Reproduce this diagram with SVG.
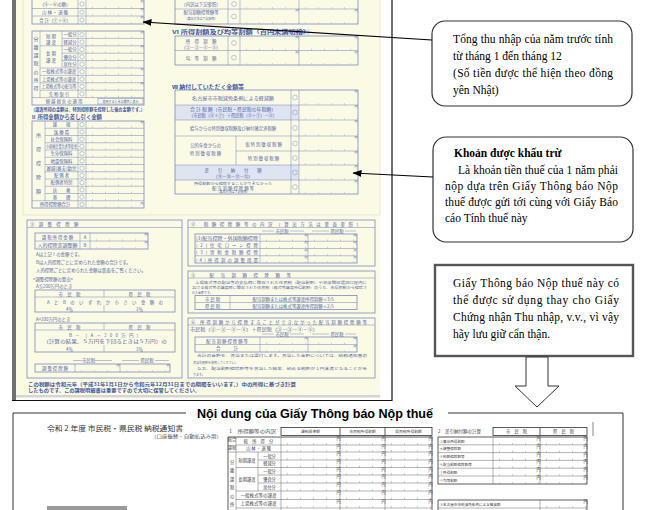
<svg xmlns="http://www.w3.org/2000/svg" width="650" height="510" viewBox="0 0 650 510">
<defs>
<marker id="ah" markerWidth="9" markerHeight="7" refX="8.5" refY="3.5" orient="auto" markerUnits="userSpaceOnUse"><path d="M0,0 L9,3.5 L0,7 z" fill="#000"/></marker>
</defs>
<style>
.tb{fill:none;stroke:#7083bd;stroke-width:.75}
.tl{fill:none;stroke:#7083bd;stroke-width:.5}
.tk{fill:none;stroke:#a6b2d6;stroke-width:1.6;stroke-dasharray:.6 12.4;stroke-dashoffset:7}
.j{font-family:"Noto Sans CJK JP",sans-serif;font-size:4.4px;fill:#5266aa}
.m{text-anchor:middle}
.y{font-size:3px}
.s5{font-size:5px}
.hd{font-size:5.2px;font-weight:bold;fill:#3f55a0}
.ci{fill:none;stroke:#8090c4;stroke-width:.5}
.sh{fill:#dfe4f1}
.v{font-family:"Liberation Serif",serif;font-size:11.5px;fill:#000}
.bk{fill:none;stroke:#333;stroke-width:.8}
.bl{fill:none;stroke:#555;stroke-width:.45}
.btk{fill:none;stroke:#999;stroke-width:1.6;stroke-dasharray:.6 12.4;stroke-dashoffset:7}
.bj{font-family:"Noto Sans CJK JP",sans-serif;font-size:4.2px;fill:#444}
</style>

<g id="form-top">
<rect x="16" y="0" width="364" height="395" fill="#fbfbe5"/>
<rect x="16" y="395" width="364" height="2.5" fill="#d6d6cc"/>
<rect x="12" y="0" width="4" height="400" fill="#707070"/>
<path d="M392 0V400.5M12 400.5H392.5" stroke="#111" stroke-width="1.2" fill="none"/>
<rect x="23" y="-1" width="357" height="216" fill="none" stroke="#e4e4c8" stroke-width=".8"/>

<!-- table L1 -->
<rect class="tb" x="32" y="-1" width="112" height="25"/>
<path class="tl" d="M32 8.5H144M32 16H144M78 -1V24M86 -1V24"/>
<path class="tk" d="M86 7.5H144M86 15H144M86 23H144"/>
<circle class="ci" cx="82" cy="4" r="2.2"/><circle class="ci" cx="82" cy="12.2" r="2.2"/><circle class="ci" cx="82" cy="20" r="2.2"/>
<text class="j m" x="55" y="6">（⑤－⑥の額）</text>
<text class="j m" x="55" y="14">山 林 ・ 退 職</text>
<text class="j m" x="55" y="22">合 計（⑦＋⑧）</text>
<text class="j y" x="140.5" y="2.5">円</text><text class="j y" x="140.5" y="11">円</text><text class="j y" x="140.5" y="18.5">円</text>

<!-- table L2 -->
<rect class="tb" x="32" y="31" width="112" height="74"/>
<path class="tl" d="M62 38.4H144M40 45.8H144M62 53.2H144M62 60.6H144M40 68H144M40 75.4H144M40 82.8H144M40 90.2H144M32 97.6H144M40 31V97.6M62 31V68M78 31V97.6M86 31V97.6"/>
<rect class="tl" x="98" y="98.6" width="45" height="5.4"/>
<path class="tk" d="M86 37.4H144M86 44.8H144M86 52.2H144M86 59.6H144M86 67H144M86 74.4H144M86 81.8H144M86 89.2H144M86 96.6H144"/>
<circle class="ci" cx="82" cy="34.7" r="2.2"/><circle class="ci" cx="82" cy="42.1" r="2.2"/><circle class="ci" cx="82" cy="49.5" r="2.2"/><circle class="ci" cx="82" cy="56.9" r="2.2"/><circle class="ci" cx="82" cy="64.3" r="2.2"/><circle class="ci" cx="82" cy="71.7" r="2.2"/><circle class="ci" cx="82" cy="79.1" r="2.2"/><circle class="ci" cx="82" cy="86.5" r="2.2"/><circle class="ci" cx="82" cy="93.9" r="2.2"/>
<text class="j m s5" x="36" y="41">分</text><text class="j m s5" x="36" y="49">離</text><text class="j m s5" x="36" y="57">課</text><text class="j m s5" x="36" y="65">税</text><text class="j m s5" x="36" y="74">の</text><text class="j m s5" x="36" y="82">所</text><text class="j m s5" x="36" y="90">得</text>
<text class="j m" x="51" y="37.5">短 期</text><text class="j m" x="51" y="43.5">譲 渡</text>
<text class="j m" x="51" y="55">長 期</text><text class="j m" x="51" y="62">譲 渡</text>
<text class="j m" x="70" y="36.3">一般分</text><text class="j m" x="70" y="43.7">軽減分</text><text class="j m" x="70" y="51.1">一般分</text><text class="j m" x="70" y="58.5">優良分</text><text class="j m" x="70" y="65.9">居住分</text>
<text class="j m" x="59" y="73.3" textLength="34" lengthAdjust="spacingAndGlyphs">一般株式等の譲渡</text>
<text class="j m" x="59" y="80.7" textLength="34" lengthAdjust="spacingAndGlyphs">上場株式等の譲渡</text>
<text class="j m" x="59" y="88.1" textLength="35" lengthAdjust="spacingAndGlyphs">上場株式等の配当等</text>
<text class="j m" x="59" y="95.5">先 物 取 引</text>
<text class="j m" x="64" y="103">繰 越 損 失 の 適 用</text>
<text class="j m y" x="120.5" y="102.6">適用するときは欄外に表示</text>
<text class="j y" x="140.5" y="33.5">円</text><text class="j y" x="140.5" y="48.3">円</text><text class="j y" x="140.5" y="70.5">円</text><text class="j y" x="140.5" y="85.3">円</text>

<text class="j hd" x="31" y="110.5" textLength="114" lengthAdjust="spacingAndGlyphs" style="font-size:4.4px">（譲渡所得の金額は、特別控除額を控除した後の金額です。）</text>
<text class="j hd" x="31" y="118.5" textLength="71" lengthAdjust="spacingAndGlyphs">Ⅱ 所得金額から差し引く金額</text>

<!-- table L3 -->
<rect class="tb" x="32" y="121" width="112" height="87"/>
<path class="tl" d="M45 128.25H144M45 135.5H144M45 142.75H144M45 150H144M45 157.25H144M45 164.5H144M45 171.75H144M45 179H144M45 186.25H144M45 193.5H144M32 200.75H144M45 121V200.75M78 121V208M86 121V208"/>
<path class="tk" d="M86 127.25H144M86 134.5H144M86 141.75H144M86 149H144M86 156.25H144M86 163.5H144M86 170.75H144M86 178H144M86 185.25H144M86 192.5H144M86 199.75H144M86 207H144"/>
<circle class="ci" cx="82" cy="124.6" r="2.2"/><circle class="ci" cx="82" cy="131.9" r="2.2"/><circle class="ci" cx="82" cy="139.1" r="2.2"/><circle class="ci" cx="82" cy="146.4" r="2.2"/><circle class="ci" cx="82" cy="153.6" r="2.2"/><circle class="ci" cx="82" cy="160.9" r="2.2"/><circle class="ci" cx="82" cy="168.1" r="2.2"/><circle class="ci" cx="82" cy="175.4" r="2.2"/><circle class="ci" cx="82" cy="182.6" r="2.2"/><circle class="ci" cx="82" cy="189.9" r="2.2"/><circle class="ci" cx="82" cy="197.1" r="2.2"/><circle class="ci" cx="82" cy="204.4" r="2.2"/>
<text class="j m s5" x="38.5" y="137">所</text><text class="j m s5" x="38.5" y="151">得</text><text class="j m s5" x="38.5" y="165">控</text><text class="j m s5" x="38.5" y="179">除</text><text class="j m s5" x="38.5" y="193">額</text>
<text class="j m" x="61.5" y="126.2">雑　　損</text>
<text class="j m" x="61.5" y="133.5">医 療 費</text>
<text class="j m" x="61.5" y="140.7">社会保険料</text>
<text class="j m" x="61.5" y="148" textLength="31" lengthAdjust="spacingAndGlyphs">小規模企業共済等掛金</text>
<text class="j m" x="61.5" y="155.2">生命保険料</text>
<text class="j m" x="61.5" y="162.5">地震保険料</text>
<text class="j m" x="61.5" y="169.7" textLength="30" lengthAdjust="spacingAndGlyphs">寡婦(寡夫)勤労</text>
<text class="j m" x="61.5" y="177">配 偶 者</text>
<text class="j m" x="61.5" y="184.2">配偶者特別</text>
<text class="j m" x="61.5" y="191.5">扶　　養</text>
<text class="j m" x="61.5" y="198.7">基　　礎</text>
<text class="j m" x="55" y="206">所得控除額合計</text>
<text class="j y" x="140.5" y="124">円</text><text class="j y" x="140.5" y="205.3">円</text>

<!-- table R1 -->
<rect class="tb" x="175" y="-1" width="183" height="25"/>
<path class="tl" d="M175 9H358M228 -1V24M240 -1V24M299 -1V24"/>
<path class="tk" d="M240 8H299M299 8H358M240 23H299M299 23H358"/>
<circle class="ci" cx="234" cy="4" r="2.4"/><circle class="ci" cx="234" cy="16.5" r="2.4"/>
<text class="j m" x="201" y="6">（内訳は下記参照）</text>
<text class="j m" x="201" y="14.3">配当割額控除額等</text>
<text class="j m y" x="201" y="20">（算出方法は下記参照）</text>
<text class="j y" x="295.5" y="12">円</text><text class="j y" x="354.5" y="12">円</text>

<rect class="sh" x="270" y="29" width="40" height="6"/>
<text class="j hd" x="172" y="34" textLength="138" lengthAdjust="spacingAndGlyphs">Ⅵ 所得割額及び均等割額（百円未満切捨）</text>

<!-- table R2 -->
<rect class="tb" x="175" y="36" width="183" height="29"/>
<path class="tl" d="M175 50.5H358M228 36V65M240 36V65M299 36V65"/>
<path class="tk" d="M240 49.5H358M240 64H358"/>
<circle class="ci" cx="234" cy="43" r="2.4"/><circle class="ci" cx="234" cy="57.7" r="2.4"/>
<text class="j m" x="201" y="42.5">所　得　割　額</text>
<text class="j m" x="201" y="48.5">（③－③－④－⑤）</text>
<text class="j m" x="201" y="59.5">均　等　割　額</text>
<text class="j y" x="295.5" y="39">円</text><text class="j y" x="354.5" y="39">円</text><text class="j y" x="295.5" y="53.5">円</text><text class="j y" x="354.5" y="53.5">円</text>

<text class="j hd" x="172" y="89" textLength="72" lengthAdjust="spacingAndGlyphs">Ⅶ 納付していただく金額等</text>

<!-- table R3 -->
<rect class="sh" x="175" y="105" width="124" height="15"/>
<rect class="sh" x="175" y="165" width="124" height="15"/>
<rect class="tb" x="175" y="90" width="183" height="104"/>
<path class="tl" d="M175 105H358M175 120H358M175 136H358M236 151H358M175 165H358M175 180H358M291 90V194M299 90V194M236 136V165"/>
<path class="tk" d="M299 104H358M299 119H358M299 135H358M299 150H358M299 164H358M299 179H358M299 193H358"/>
<circle class="ci" cx="295" cy="97.5" r="2.4"/><circle class="ci" cx="295" cy="112.5" r="2.4"/><circle class="ci" cx="295" cy="128" r="2.4"/><circle class="ci" cx="295" cy="143.5" r="2.4"/><circle class="ci" cx="295" cy="158" r="2.4"/><circle class="ci" cx="295" cy="172.5" r="2.4"/><circle class="ci" cx="295" cy="187" r="2.4"/>
<text class="j m" x="233" y="99.5" textLength="82" lengthAdjust="spacingAndGlyphs">名古屋市市税減免条例による軽減額</text>
<text class="j m" x="233" y="111.3" textLength="86" lengthAdjust="spacingAndGlyphs">合 計 税 額（市民税・県民税の年税額）</text>
<text class="j m" x="233" y="117.3" textLength="88" lengthAdjust="spacingAndGlyphs">（市民税（⑧＋⑦）＋県民税（⑧＋⑦）－⑧）</text>
<text class="j m" x="233" y="130" textLength="86" lengthAdjust="spacingAndGlyphs">給与からの特別徴収税額及び納付確定済税額</text>
<text class="j m" x="205.5" y="147">公的年金からの</text>
<text class="j m" x="205.5" y="155">特 別 徴 収 税 額</text>
<text class="j m" x="263.5" y="145.5">仮 特 別 徴 収 税 額</text>
<text class="j m" x="263.5" y="160">特 別 徴 収 税 額</text>
<text class="j m" x="233" y="171.5">差　　引　　納　　付　　額</text>
<text class="j m" x="233" y="177.5">（⑨－⑩－⑪－⑫）</text>
<text class="j m" x="233" y="184.5" textLength="78" lengthAdjust="spacingAndGlyphs" style="font-size:3.6px">所得割額から控除することができなかった</text>
<text class="j m" x="233" y="189.5">配 当 割 額 控 除 額 等</text>
<text class="j m y" x="233" y="193.3">（算出方法は下記参照）</text>
<text class="j y" x="354.5" y="93">円</text><text class="j y" x="354.5" y="108">円</text><text class="j y" x="354.5" y="123">円</text><text class="j y" x="354.5" y="139">円</text><text class="j y" x="354.5" y="154">円</text><text class="j y" x="354.5" y="168">円</text><text class="j y" x="354.5" y="183">円</text>

<!-- section 3 -->
<rect class="tb" x="27" y="220" width="155" height="158"/>
<path class="tl" d="M27 227.5H182"/>
<text class="j" x="30" y="226.2">③　調　整　控　除　額</text>
<rect class="tb" x="35" y="233" width="113" height="16"/>
<path class="tl" d="M35 241H148M80 233V249M90 233V249"/>
<path class="tk" d="M90 240H148M90 248H148"/>
<text class="j m" x="57.5" y="239.3">課 税 所 得 金 額</text>
<text class="j m" x="57.5" y="247.3" textLength="40" lengthAdjust="spacingAndGlyphs">人的控除差調整額</text>
<text class="j m" x="85" y="239.3">A</text><text class="j m" x="85" y="247.3">B</text>
<text class="j y" x="144.5" y="236">円</text><text class="j y" x="144.5" y="244">円</text>
<text class="j" x="36" y="256">Aは上記Ⅰの金額です。</text>
<text class="j" x="36" y="264">Bは人的控除ごとに定められた金額の合計です。</text>
<text class="j" x="36" y="272">人的控除ごとに定められた金額は裏面をご覧ください。</text>
<text class="j" x="33" y="280.5">&lt;調整控除額の算出&gt;</text>
<text class="j" x="36" y="287.5">A≦200万円のとき</text>
<rect class="tb" x="35" y="290" width="140" height="22"/>
<path class="tl" d="M35 297H175M104 290V297M104 305V312"/>
<text class="j m" x="69.5" y="295.5">市　民　税</text><text class="j m" x="139.5" y="295.5">県　民　税</text>
<text class="j m" x="105" y="303.5" textLength="116" lengthAdjust="spacing">AとBのいずれか小さい金額の</text>
<text class="j m" x="69.5" y="310.5">4％</text><text class="j m" x="139.5" y="310.5">1％</text>
<text class="j" x="36" y="320.5">A&gt;200万円のとき</text>
<rect class="tb" x="35" y="323" width="140" height="29"/>
<path class="tl" d="M35 330H175M104 323V330M104 345V352"/>
<text class="j m" x="69.5" y="328.5">市　民　税</text><text class="j m" x="139.5" y="328.5">県　民　税</text>
<text class="j m" x="105" y="336.5" textLength="72" lengthAdjust="spacing">B－（A－200万円）</text>
<text class="j m" x="105" y="343.3" textLength="124" lengthAdjust="spacingAndGlyphs">（計算の結果、５万円を下回るときは５万円）の</text>
<text class="j m" x="69.5" y="350.5">4％</text><text class="j m" x="139.5" y="350.5">1％</text>
<path class="tl" d="M73 360.5H82M95 360.5H112M122 360.5H139M155 360.5H169"/>
<text class="j m" x="88.5" y="362">市民税</text><text class="j m" x="147" y="362">県民税</text>
<rect class="tb" x="35" y="364" width="135" height="8"/>
<path class="tl" d="M75 364V372M120 364V372"/>
<path class="tk" d="M75 371H120M120 371H170"/>
<text class="j m" x="55" y="370.3">調 整 控 除 額</text>
<text class="j y" x="116.5" y="367">円</text><text class="j y" x="166.5" y="367">円</text>

<!-- section 4 -->
<rect class="tb" x="188" y="220" width="187" height="46"/>
<path class="tl" d="M188 227.5H375"/>
<text class="j" x="191" y="226.2" textLength="170" lengthAdjust="spacing">④ 税額控除額等の内訳（算出方法は裏面参照）</text>
<path class="tl" d="M262 231H274M290 231H304M312 231H329M345 231H356"/>
<text class="j m" x="282" y="232.5">市民税</text><text class="j m" x="337" y="232.5">県民税</text>
<rect class="tb" x="195" y="234" width="162" height="29"/>
<path class="tl" d="M195 241.25H357M195 248.5H357M195 255.75H357M260 234V263M308 234V263"/>
<path class="tk" d="M260 240.25H308M308 240.25H357M260 247.5H308M308 247.5H357M260 254.75H308M308 254.75H357M260 262H308M308 262H357"/>
<text class="j" x="196" y="239.8" textLength="62" lengthAdjust="spacingAndGlyphs">(1)配当控除・外国税額控除</text>
<text class="j" x="196" y="247" textLength="62" lengthAdjust="spacing">(2)住宅ローン控除</text>
<text class="j" x="196" y="254.3" textLength="62" lengthAdjust="spacing">(3)寄附金税額控除</text>
<text class="j" x="196" y="261.5" textLength="62" lengthAdjust="spacing">(4)所得割の調整措置</text>
<text class="j y" x="304.5" y="237">円</text><text class="j y" x="353.5" y="237">円</text><text class="j y" x="304.5" y="244.3">円</text><text class="j y" x="353.5" y="244.3">円</text><text class="j y" x="304.5" y="251.5">円</text><text class="j y" x="353.5" y="251.5">円</text><text class="j y" x="304.5" y="258.8">円</text><text class="j y" x="353.5" y="258.8">円</text>

<!-- section 5 -->
<rect class="tb" x="188" y="271" width="187" height="42"/>
<path class="tl" d="M188 278H375"/>
<text class="j" x="191" y="276.8" textLength="100" lengthAdjust="spacing">⑤ 配当割額控除額等</text>
<text class="j y" x="195" y="283.5" textLength="172" lengthAdjust="spacingAndGlyphs">上場株式等の配当等の支払時に徴収された住民税（配当割額）や源泉徴収選択口座内に</text>
<text class="j y" x="192" y="288.8" textLength="175" lengthAdjust="spacingAndGlyphs">おける株式等の譲渡時に徴収された住民税（株式等譲渡所得割額）のうち、市県民税から控除さ</text>
<text class="j y" x="192" y="294">れた金額です。</text>
<rect class="tb" x="195" y="295.5" width="162" height="14"/>
<path class="tl" d="M195 302.5H357M230 295.5V309.5"/>
<text class="j m" x="212.5" y="300.8">市 民 税</text><text class="j m" x="212.5" y="307.8">県 民 税</text>
<text class="j m" x="293" y="300.8">配当割額または株式等譲渡所得割額×3/5</text>
<text class="j m" x="293" y="307.8">配当割額または株式等譲渡所得割額×2/5</text>

<!-- section 6 -->
<rect class="tb" x="188" y="318" width="187" height="60"/>
<path class="tl" d="M188 325H375"/>
<text class="j" x="191" y="323.8" textLength="176" lengthAdjust="spacing">⑥ 所得割額から控除することができなかった配当割額控除額等</text>
<text class="j" x="190" y="330.5" textLength="128" lengthAdjust="spacingAndGlyphs">市民税（③－③－④－⑤）＋県民税（③－③－④－⑤）</text>
<path class="tl" d="M262 334H274M290 334H304M312 334H329M345 334H356"/>
<text class="j m" x="282" y="335.5">市民税</text><text class="j m" x="337" y="335.5">県民税</text>
<rect class="tb" x="195" y="337" width="162" height="15"/>
<path class="tl" d="M195 344.5H357M260 337V352M308 337V352"/>
<path class="tk" d="M260 343.5H357M260 351H357"/>
<text class="j m" x="227" y="342.5">配 当 割 額 控 除 額 等</text>
<text class="j m" x="227" y="350">合　　　計</text>
<text class="j y" x="304.5" y="340">円</text><text class="j y" x="353.5" y="340">円</text><text class="j y" x="353.5" y="347.5">円</text>
<text class="j y" x="197" y="357.3" textLength="170" lengthAdjust="spacingAndGlyphs">合計の金額を、充当または還付します。充当した金額については、納税通知書の</text>
<text class="j y" x="193" y="363.5">充当先税額を参照してください。</text>
<text class="j y" x="197" y="369.7" textLength="170" lengthAdjust="spacingAndGlyphs">なお、配当割額控除額等を充当した結果、納める税額が１円未満となることがあ</text>
<text class="j y" x="193" y="375.8">ります。</text>

<text class="j hd" x="28" y="385.5" textLength="268" lengthAdjust="spacingAndGlyphs" style="font-size:5px">この税額は令和元年（平成31年1月1日から令和元年12月31日までの期間をいいます。）中の所得に基づき計算</text>
<text class="j hd" x="28" y="392.3" textLength="172" lengthAdjust="spacingAndGlyphs" style="font-size:5px">したものです。この課税明細書は重要ですので大切に保管してください。</text>
</g>

<g id="title">
<path d="M13 510V413H186M448 413H623V510" fill="none" stroke="#333" stroke-width="1"/>
<text x="197" y="418" textLength="236" lengthAdjust="spacingAndGlyphs" style="font-family:'Liberation Sans',Arial,sans-serif;font-size:13px;font-weight:bold;fill:#000">Nội dung của Giấy Thông báo Nộp thuế</text>
</g>

<g id="form-bottom">
<text x="47" y="431" textLength="136" lengthAdjust="spacingAndGlyphs" style="font-family:'Noto Sans CJK JP',sans-serif;font-size:7px;fill:#333">令和 2 年度 市民税・県民税 納税通知書</text>
<text class="bj" x="151" y="437.5" textLength="71" lengthAdjust="spacingAndGlyphs">（口座振替・自動払込み用）</text>
<rect x="47" y="506" width="80" height="5" fill="#9a9a9a"/>

<!-- bottom table 1 -->
<text class="bj" x="229" y="433" textLength="47" lengthAdjust="spacingAndGlyphs">1　所得額等の内訳</text>
<rect class="bk" x="281" y="427.5" width="151" height="8"/>
<path class="bk" d="M340 427.5V435.5M385 427.5V435.5"/>
<text class="bj m" x="310.5" y="433.3" style="font-size:3.8px">課税標準額</text>
<text class="bj m" x="362.5" y="433.3" style="font-size:3.8px">市民税所得割額</text>
<text class="bj m" x="408.5" y="433.3" style="font-size:3.8px">県民税所得割額</text>
<path class="bk" d="M228 520V437H432V520"/>
<path class="bl" d="M236 445H432M228 452H432M258 460H432M236 467.5H432M258 475H432M258 483H432M236 491H432M236 499.5H432M236 508H432M236 437V520M258 452V491M281 437V520M340 437V520M385 437V520"/>
<path class="btk" d="M281 444H340M340 444H385M385 444H432M281 451H340M340 451H385M385 451H432M281 459H340M340 459H385M385 459H432M281 466.5H340M340 466.5H385M385 466.5H432M281 474H340M340 474H385M385 474H432M281 482H340M340 482H385M385 482H432M281 490H340M340 490H385M385 490H432M281 498.5H340M340 498.5H385M385 498.5H432M281 507H340M340 507H385M385 507H432"/>
<text class="bj m y" x="232" y="441">総合</text><text class="bj m y" x="232" y="449">課税</text>
<text class="bj m" x="258.5" y="442.6">総　所　得　分</text>
<text class="bj m" x="258.5" y="450.2">山 林 ・ 退 職</text>
<text class="bj m" x="247" y="461.5">短期譲渡</text>
<text class="bj m" x="247" y="480.8">長期譲渡</text>
<text class="bj m" x="269.5" y="457.6">一般分</text><text class="bj m" x="269.5" y="465.3">軽減分</text><text class="bj m" x="269.5" y="472.8">一般分</text><text class="bj m" x="269.5" y="480.6">優良分</text><text class="bj m" x="269.5" y="488.6">居住分</text>
<text class="bj m" x="258.5" y="496.8" textLength="36" lengthAdjust="spacingAndGlyphs">一般株式等の譲渡</text>
<text class="bj m" x="258.5" y="505.3" textLength="36" lengthAdjust="spacingAndGlyphs">上場株式等の譲渡</text>
<text class="bj m" x="232" y="463.5">分</text><text class="bj m" x="232" y="471.5">離</text><text class="bj m" x="232" y="481">課</text><text class="bj m" x="232" y="488.5">税</text><text class="bj m" x="232" y="497.5">の</text><text class="bj m" x="232" y="505.5">所</text>
<text class="bj y" x="336.5" y="440">円</text><text class="bj y" x="381.5" y="440">円</text><text class="bj y" x="428.5" y="440">円</text>
<text class="bj y" x="336.5" y="448">円</text><text class="bj y" x="381.5" y="448">円</text><text class="bj y" x="428.5" y="448">円</text>
<text class="bj y" x="336.5" y="455">円</text><text class="bj y" x="381.5" y="455">円</text><text class="bj y" x="428.5" y="455">円</text>
<text class="bj y" x="336.5" y="463">円</text><text class="bj y" x="381.5" y="463">円</text><text class="bj y" x="428.5" y="463">円</text>
<text class="bj y" x="336.5" y="470.5">円</text><text class="bj y" x="381.5" y="470.5">円</text><text class="bj y" x="428.5" y="470.5">円</text>
<text class="bj y" x="336.5" y="478">円</text><text class="bj y" x="381.5" y="478">円</text><text class="bj y" x="428.5" y="478">円</text>
<text class="bj y" x="336.5" y="486">円</text><text class="bj y" x="381.5" y="486">円</text><text class="bj y" x="428.5" y="486">円</text>
<text class="bj y" x="336.5" y="494">円</text><text class="bj y" x="381.5" y="494">円</text><text class="bj y" x="428.5" y="494">円</text>
<text class="bj y" x="336.5" y="502.5">円</text><text class="bj y" x="381.5" y="502.5">円</text><text class="bj y" x="428.5" y="502.5">円</text>

<!-- bottom table 2 -->
<text class="bj" x="438" y="433" textLength="43" lengthAdjust="spacingAndGlyphs">2　差引納付額の計算</text>
<rect class="bk" x="493" y="427.5" width="94" height="8"/>
<path class="bk" d="M540 427.5V435.5"/>
<text class="bj m" x="516.5" y="433.3">市　民　税</text>
<text class="bj m" x="563.5" y="433.3">県　民　税</text>
<rect class="bk" x="438" y="437" width="149" height="47"/>
<path class="bl" d="M438 444.8H587M438 452.6H587M438 460.4H587M438 468.2H587M438 476H587M493 437V484M540 437V484"/>
<path class="btk" d="M493 443.8H540M540 443.8H587M493 451.6H540M540 451.6H587M493 459.4H540M540 459.4H587M493 467.2H540M540 467.2H587M493 475H540M540 475H587M493 483H540M540 483H587"/>
<text class="bj" x="439.5" y="442.5" style="font-size:3.6px">③算出所得割額</text>
<text class="bj" x="439.5" y="450.3" style="font-size:3.6px">④調整控除額</text>
<text class="bj" x="439.5" y="458.1" style="font-size:3.6px">⑤税額控除額等</text>
<text class="bj" x="439.5" y="465.9" style="font-size:3.6px">⑥配当割額控除額等</text>
<text class="bj" x="439.5" y="473.7" style="font-size:3.6px">⑦所得割額</text>
<text class="bj" x="439.5" y="481.5" style="font-size:3.6px">⑧均等割額</text>
<text class="bj y" x="536.5" y="440">円</text><text class="bj y" x="583.5" y="440">円</text>
<text class="bj y" x="536.5" y="447.8">円</text><text class="bj y" x="583.5" y="447.8">円</text>
<text class="bj y" x="536.5" y="455.6">円</text><text class="bj y" x="583.5" y="455.6">円</text>
<text class="bj y" x="536.5" y="463.4">円</text><text class="bj y" x="583.5" y="463.4">円</text>
<text class="bj y" x="536.5" y="471.2">円</text><text class="bj y" x="583.5" y="471.2">円</text>
<text class="bj y" x="536.5" y="479">円</text><text class="bj y" x="583.5" y="479">円</text>
<path class="bk" d="M438 520V500H587V520"/>
<path class="bl" d="M438 508H587M540 500V520"/>
<path class="btk" d="M540 507H587"/>
<text class="bj" x="439.5" y="505.5" style="font-size:3.6px">⑨名古屋市市税減免条例による軽減額</text>
<text class="bj y" x="583.5" y="503">円</text>
<path d="M593 422V436" stroke="#aaa" stroke-width="1.4"/>
</g>

<g id="callout-total">
<rect x="432" y="21" width="200" height="85" rx="13" fill="#fff" stroke="#333" stroke-width="1.2"/>
<text class="v" x="453" y="42.5" textLength="160" lengthAdjust="spacing">Tổng thu nhập của năm trước tính</text>
<text class="v" x="453" y="59.5">từ tháng 1 đến tháng 12</text>
<text class="v" x="453" y="76.5" textLength="160" lengthAdjust="spacing">(Số tiền được thể hiện theo đồng</text>
<text class="v" x="453" y="93.5">yên Nhật)</text>
</g>

<g id="callout-deduction">
<rect x="433" y="137" width="200" height="105" rx="13" fill="#fff" stroke="#333" stroke-width="1.2"/>
<text class="v" x="454" y="157" style="font-weight:bold">Khoản được khấu trừ</text>
<text class="v" x="458" y="173.5" textLength="160" lengthAdjust="spacing">Là khoản tiền thuế của 1 năm phải</text>
<text class="v" x="445" y="189.5" textLength="173" lengthAdjust="spacing">nộp dựa trên Giấy Thông báo Nộp</text>
<text class="v" x="445" y="205.5" textLength="173" lengthAdjust="spacing">thuế được gửi tới cùng với Giấy Báo</text>
<text class="v" x="445" y="221.5">cáo Tính thuế này</text>
</g>

<g id="callout-note">
<rect x="435" y="265" width="198" height="91" fill="#fff" stroke="#555" stroke-width="2.4"/>
<text class="v" x="453" y="287" textLength="166" lengthAdjust="spacing">Giấy Thông báo Nộp thuế này có</text>
<text class="v" x="453" y="304" textLength="166" lengthAdjust="spacing">thể được sử dụng thay cho Giấy</text>
<text class="v" x="453" y="321" textLength="166" lengthAdjust="spacing">Chứng nhận Thu nhập, v.v., vì vậy</text>
<text class="v" x="453" y="338">hãy lưu giữ cẩn thận.</text>
</g>

<g id="arrow-down">
<polygon points="526,357 548,357 548,386 559,386 537,407 515,386 526,386" fill="#fff" stroke="#333" stroke-width="1"/>
</g>

<g id="connectors" fill="none" stroke="#000" stroke-width="1.2">
<line x1="432" y1="40" x2="143" y2="22" marker-end="url(#ah)"/>
<line x1="433" y1="177" x2="353" y2="173" marker-end="url(#ah)"/>
</g>
</svg>
